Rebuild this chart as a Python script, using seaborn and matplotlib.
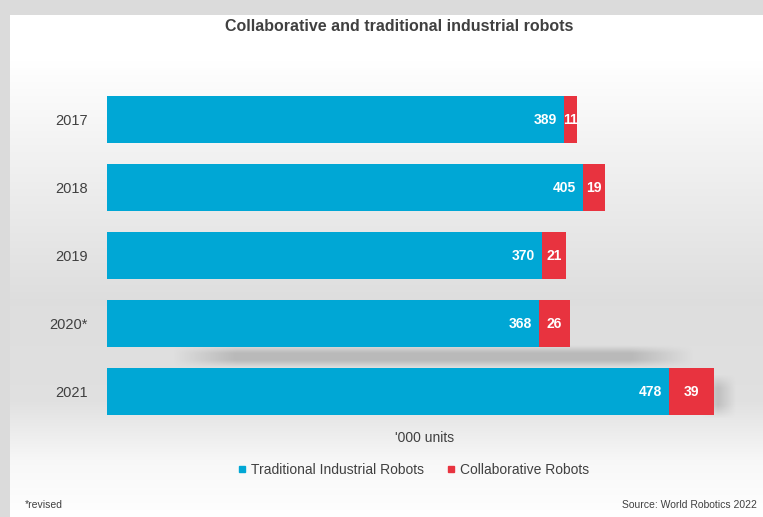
import numpy as np
import pandas as pd
import matplotlib
matplotlib.use("Agg")
import matplotlib.pyplot as plt
from matplotlib.lines import Line2D
import seaborn as sns

years = ["2017", "2018", "2019", "2020*", "2021"]
traditional = [389, 405, 370, 368, 478]
collaborative = [11, 19, 21, 26, 39]

title = "Collaborative and traditional industrial robots"
xlabel = "'000 units"
legend_labels = ["Traditional Industrial Robots", "Collaborative Robots"]
note_left = "*revised"
note_right = "Source: World Robotics 2022"

BLUE = "#00a7d5"
RED = "#e8333f"
TXT = "#404040"

sns.set_theme(style="white")
plt.rcParams["font.family"] = ["Liberation Sans", "DejaVu Sans"]

W, H = 763, 517
fig = plt.figure(figsize=(W / 100, H / 100), dpi=100)

# background: gray frame + vertical gradient panel
bg = np.ones((H, W, 3))
yy = np.arange(H)[:, None]
prof = np.interp(yy, [0, 60, 150, 300, 400, 460, 517], [1.0, 1.0, 0.95, 0.87, 0.88, 0.97, 1.0])
bg[:] = prof[:, :, None] * np.ones((1, W, 3))
bg[:15, :, :] = 0.86
bg[:, :10, :] = 0.86
bax = fig.add_axes([0, 0, 1, 1], zorder=0)
bax.imshow(bg, aspect="auto", extent=[0, W, H, 0], interpolation="bilinear")
bax.axis("off")

# main axes
px_per_unit = 1.175
x0 = 107
xmax = 540
ax_top, ax_bot = 85.5, 425.5
ax = fig.add_axes([x0 / W, 1 - ax_bot / H, xmax * px_per_unit / W, (ax_bot - ax_top) / H], zorder=1)
ax.patch.set_alpha(0)

df = pd.DataFrame({"year": years, "traditional": traditional, "collaborative": collaborative})
df["total"] = df["traditional"] + df["collaborative"]

# soft shadows (decorative)
def soft_shadow(x_a, x_b, y_a, y_b, strength, fade_x=0.12, fade_y=0.35):
    nx, ny = 200, 40
    gx = np.linspace(0, 1, nx)
    gy = np.linspace(0, 1, ny)
    fx = np.clip(np.minimum(gx / fade_x, (1 - gx) / fade_x), 0, 1)
    fy = np.clip(np.minimum(gy / fade_y, (1 - gy) / fade_y), 0, 1)
    a = np.outer(fy, fx) * strength
    img = np.zeros((ny, nx, 4))
    img[..., :3] = 0.45
    img[..., 3] = a
    ax.imshow(img, extent=[x_a, x_b, y_b, y_a], aspect="auto", zorder=1, interpolation="bilinear")

soft_shadow(55, 500, 3.33, 3.66, 0.35)
soft_shadow(505, 535, 3.75, 4.4, 0.3, fade_x=0.5, fade_y=0.3)

sns.barplot(data=df, x="total", y="year", color=RED, saturation=1, width=0.69, ax=ax,
            linewidth=0, zorder=2)
sns.barplot(data=df, x="traditional", y="year", color=BLUE, saturation=1, width=0.69, ax=ax,
            linewidth=0, zorder=3)

for i, (t, c) in enumerate(zip(traditional, collaborative)):
    ax.text(t - 6, i, str(t), ha="right", va="center", color="white", fontsize=10, fontweight="bold", zorder=5)
    ax.text(t + c / 2, i, str(c), ha="center", va="center", color="white", fontsize=10, fontweight="bold", zorder=5)

ax.set_xlim(0, xmax)
ax.set_ylim(4.5, -0.5)
ax.set_xticks([])
ax.set_ylabel("")
ax.set_xlabel(xlabel, fontsize=10, color=TXT, labelpad=4)
ax.tick_params(axis="y", length=0, pad=14, labelsize=10.5, labelcolor=TXT)
for s in ax.spines.values():
    s.set_visible(False)

fig.text(399 / W, 1 - 27 / H, title, ha="center", va="center",
         fontsize=11.5, fontweight="bold", color=TXT)

handles = [Line2D([], [], marker="s", ls="", color=BLUE, markersize=5),
           Line2D([], [], marker="s", ls="", color=RED, markersize=5)]
fig.legend(handles, legend_labels, loc="center", bbox_to_anchor=(412 / W, 1 - 470 / H),
           ncol=2, frameon=False, fontsize=10, labelcolor=TXT, handletextpad=0.1,
           columnspacing=1.5, handlelength=1)

fig.text(25 / W, 1 - 505 / H, note_left, ha="left", va="center", fontsize=7.5, color=TXT)
fig.text(757 / W, 1 - 505 / H, note_right, ha="right", va="center", fontsize=7.5, color=TXT)

fig.savefig("out.png", dpi=100)
